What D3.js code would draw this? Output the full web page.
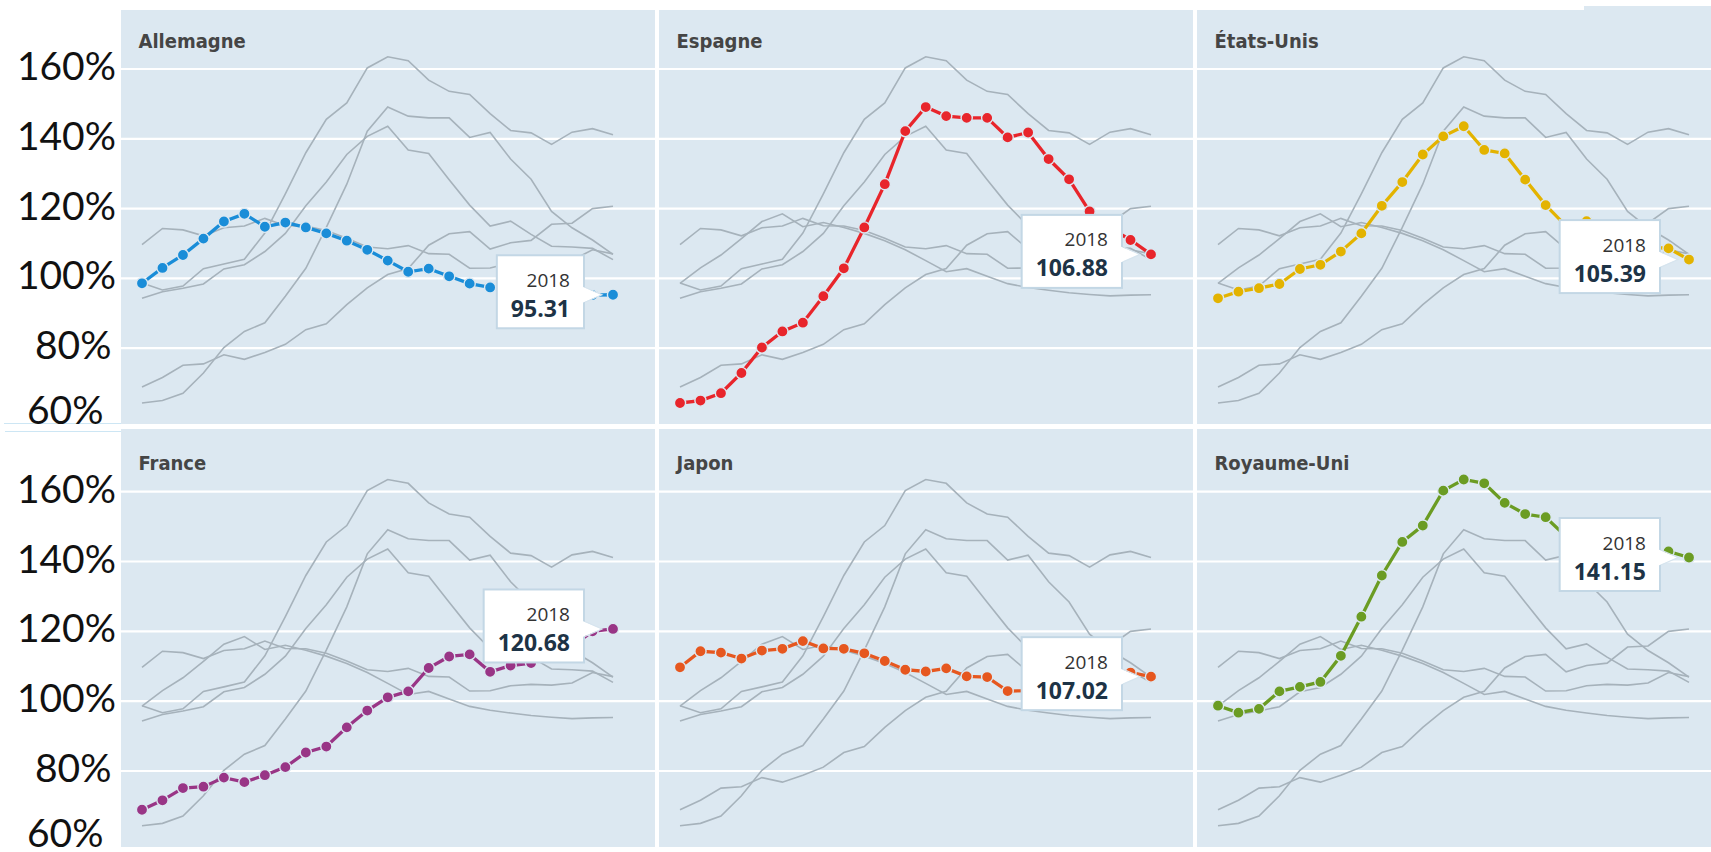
<!DOCTYPE html>
<html>
<head>
<meta charset="utf-8">
<script src="https://cdn.jsdelivr.net/npm/d3@7"></script>
<style>
  html, body { margin: 0; padding: 0; background: #fff; overflow: hidden; }
  svg { display: block; }
  .ylab text { font-family: Lato, "Open Sans", sans-serif; font-size: 39px; fill: #111; }
  .title { font-family: "DejaVu Sans Condensed", "DejaVu Sans", sans-serif; font-stretch: condensed; font-weight: bold; font-size: 20px; fill: #454545; }
  .tip-year { font-family: "Open Sans", sans-serif; font-size: 19px; fill: #333; }
  .tip-value { font-family: "Open Sans", sans-serif; font-weight: bold; font-size: 23px; fill: #1d3346; }
</style>
</head>
<body>
<svg id="chart" width="1711" height="852"></svg>
<script>
// data (index, % of long-run average)
var years = [1995, 1996, 1997, 1998, 1999, 2000, 2001, 2002, 2003, 2004, 2005, 2006,
             2007, 2008, 2009, 2010, 2011, 2012, 2013, 2014, 2015, 2016, 2017, 2018];
var countries = ["Allemagne", "Espagne", "États-Unis", "France", "Japon", "Royaume-Uni"];
var colors = ["#1a8dd8", "#e8252b", "#e3b300", "#993586", "#e6571f", "#6b9c23"];

var allemagne = [98.6, 103.0, 106.7, 111.4, 116.3, 118.5, 114.8, 116.0, 114.6, 112.9, 110.8, 108.2,
                 105.1, 101.9, 102.8, 100.6, 98.5, 97.4, 96.6, 95.9, 95.4, 95.0, 95.2, 95.31];
var espagne = [64.3, 65.0, 67.1, 72.9, 80.2, 84.8, 87.3, 94.9, 102.9, 114.6, 127.0, 142.2,
               149.1, 146.5, 146.0, 146.0, 140.4, 141.8, 134.2, 128.4, 119.2, 114.5, 111.0, 106.88];
var etatsUnis = [94.3, 96.2, 97.2, 98.4, 102.7, 103.9, 107.7, 112.9, 120.8, 127.6, 135.5, 140.7,
                 143.6, 136.8, 135.8, 128.3, 121.0, 115.0, 116.4, 112.6, 109.2, 109.0, 108.6, 105.39];
var france = [68.9, 71.6, 75.1, 75.5, 78.1, 76.8, 78.8, 81.1, 85.3, 87.0, 92.5, 97.3,
              101.1, 102.8, 109.5, 112.8, 113.4, 108.4, 110.2, 110.9, 115.5, 115.8, 120.0, 120.68];
var japon = [109.7, 114.3, 113.9, 112.2, 114.5, 115.0, 117.2, 115.1, 115.0, 113.7, 111.5, 109.0,
             108.5, 109.4, 107.1, 106.9, 102.9, 103.0, 104.4, 104.8, 104.6, 105.2, 108.2, 107.02];
var royaumeUni = [98.7, 96.7, 97.8, 102.8, 104.1, 105.5, 113.0, 124.2, 136.0, 145.6, 150.3, 160.3,
                  163.5, 162.4, 156.8, 153.6, 152.7, 147.2, 142.4, 141.7, 138.4, 141.9, 142.9, 141.15];

var series = [allemagne, espagne, etatsUnis, france, japon, royaumeUni];
var yTicks = [60, 80, 100, 120, 140, 160];

// layout
var svg = d3.select("#chart");
var bg = "#dce8f1";
var colLeft = [121, 659, 1197], panelW = 534;
var rows = [
  { top: 10, bottom: 424, y60: 418, y160: 69 },
  { top: 429, bottom: 847, y60: 840.8, y160: 491.7 }
];
var labelShift = { 80: -4.5, 60: -12.5 };

// odd bits of frame visible around the crop
svg.append("rect").attr("x", 1584).attr("y", 6).attr("width", 127).attr("height", 5).attr("fill", bg);
svg.append("line").attr("x1", 4).attr("x2", 121).attr("y1", 423.5).attr("y2", 423.5)
  .attr("stroke", "#cde6f4").attr("stroke-width", 1);
svg.append("line").attr("x1", 5).attr("x2", 121).attr("y1", 431.5).attr("y2", 431.5)
  .attr("stroke", "#cde6f4").attr("stroke-width", 1.2);

var line = d3.line();

countries.forEach(function (name, i) {
  var col = i % 3, row = rows[Math.floor(i / 3)];
  var left = colLeft[col];

  var x = d3.scaleLinear()
    .domain([years[0], years[years.length - 1]])
    .range([left + 21, left + 492]);
  var y = d3.scaleLinear()
    .domain([60, 160])
    .range([row.y60, row.y160]);

  line.x(function (d, k) { return x(years[k]); })
      .y(function (d) { return y(d); });

  var g = svg.append("g");
  var clipId = "clip" + i;
  g.append("clipPath").attr("id", clipId)
    .append("rect")
    .attr("x", left).attr("y", row.top)
    .attr("width", panelW).attr("height", row.bottom - row.top);

  g.append("rect")
    .attr("x", left).attr("y", row.top)
    .attr("width", panelW).attr("height", row.bottom - row.top)
    .attr("fill", bg);

  // white gridlines
  g.append("g")
    .selectAll("line")
    .data(yTicks.filter(function (t) { return t > 60; }))
    .enter().append("line")
    .attr("x1", left).attr("x2", left + panelW)
    .attr("y1", function (d) { return y(d); })
    .attr("y2", function (d) { return y(d); })
    .attr("stroke", "#fff")
    .attr("stroke-width", 2.2);

  g.append("text")
    .attr("class", "title")
    .attr("x", left + 17.5)
    .attr("y", row.y160 - 21.3)
    .text(name);

  var plot = g.append("g").attr("clip-path", "url(#" + clipId + ")");

  // the other countries in grey
  plot.selectAll("path.other")
    .data(series.filter(function (s, j) { return j !== i; }))
    .enter().append("path")
    .attr("class", "other")
    .attr("d", line)
    .attr("fill", "none")
    .attr("stroke", "#a6b2bb")
    .attr("stroke-width", 1.6);

  plot.append("path")
    .attr("d", line(series[i]))
    .attr("fill", "none")
    .attr("stroke", colors[i])
    .attr("stroke-width", 3.3);

  plot.selectAll("circle")
    .data(series[i])
    .enter().append("circle")
    .attr("cx", function (d, k) { return x(years[k]); })
    .attr("cy", function (d) { return y(d); })
    .attr("r", 5.6)
    .attr("fill", colors[i])
    .attr("stroke", bg)
    .attr("stroke-width", 1.4);

  // tooltip on the last point
  var last = series[i].length - 1;
  var px = x(years[last]), py = y(series[i][last]);
  var tip = g.append("g");
  var boxR = px - 29, boxT = py - 3 - 36.5, boxH = 73;
  var rect = tip.append("rect").attr("fill", "#fff").attr("stroke", "#c3d7e5").attr("stroke-width", 2);
  var tYear = tip.append("text").attr("class", "tip-year").attr("text-anchor", "end")
    .attr("x", boxR - 14).attr("y", boxT + 31.5).text(years[last]);
  var tVal = tip.append("text").attr("class", "tip-value").attr("text-anchor", "end")
    .attr("x", boxR - 14).attr("y", boxT + 61.5).text(d3.format(".2f")(series[i][last]));
  var w = Math.max(tYear.node().getComputedTextLength(), tVal.node().getComputedTextLength()) + 28;
  rect.attr("x", boxR - w).attr("y", boxT).attr("width", w).attr("height", boxH);
  tip.append("path")
    .attr("d", "M" + (boxR - 1.5) + "," + (py - 8) + "L" + (px - 11) + "," + py + "L" + (boxR - 1.5) + "," + (py + 8) + "Z")
    .attr("fill", "#fff");
  tip.append("path")
    .attr("d", "M" + (boxR + 1) + "," + (py - 7.5) + "L" + (px - 11) + "," + py + "L" + (boxR + 1) + "," + (py + 7.5))
    .attr("fill", "none")
    .attr("stroke", "#d6e4ee")
    .attr("stroke-width", 1.2);

  // y axis labels on the first column only
  if (col === 0) {
    var ax = svg.append("g")
      .attr("class", "ylab")
      .attr("transform", "translate(116,0)")
      .call(d3.axisLeft(y).tickValues(yTicks).tickSize(0).tickPadding(0)
        .tickFormat(function (d) { return d + "%"; }));
    ax.select(".domain").remove();
    ax.selectAll(".tick text")
      .attr("dy", null)
      .attr("fill", "#111")
      .attr("y", function (d) { return Math.min(10.5, row.bottom - 1 - y(d)); })
      .attr("x", function (d) { return labelShift[d] || 0; });
  }
});
</script>
</body>
</html>
